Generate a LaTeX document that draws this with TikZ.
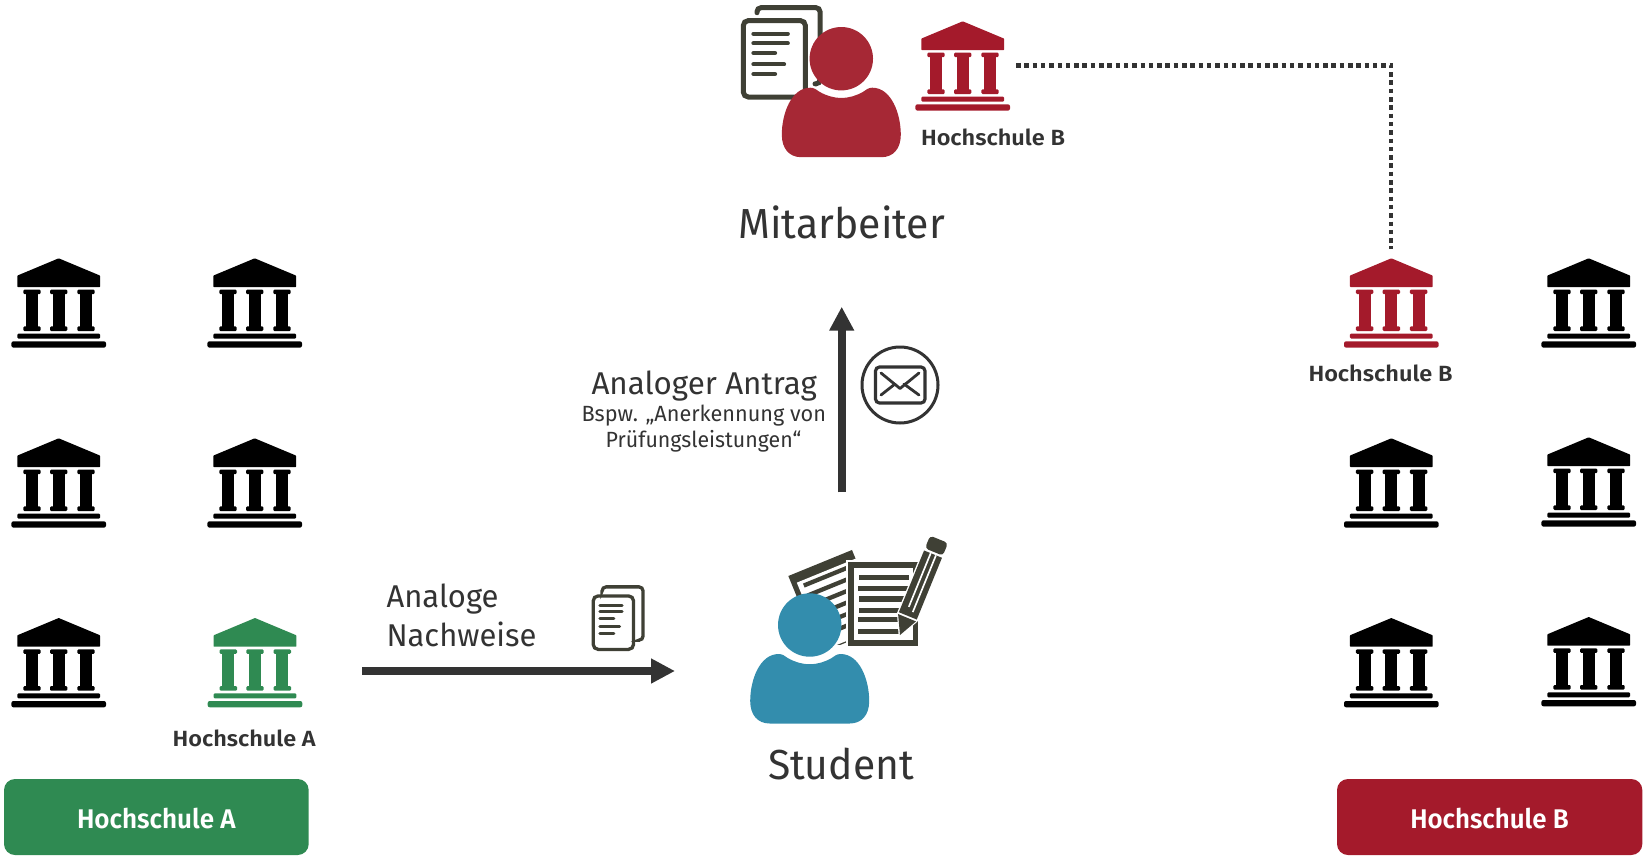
\documentclass[tikz,border=0pt]{standalone}
\usepackage{fontspec}
\usepackage{graphicx}
\usetikzlibrary{arrows.meta}
\setmainfont{Fira Sans}
\newfontfamily\lightfont{Fira Sans}
\newfontfamily\heavyfont{Fira Sans SemiBold}
\definecolor{txt}{HTML}{333333}
\definecolor{icon}{HTML}{3F4035}
\definecolor{hsred}{HTML}{A41A2B}
\definecolor{hsgreen}{HTML}{2F8A52}
\definecolor{pred}{HTML}{A62835}
\definecolor{pteal}{HTML}{338DAD}
% \lbl{font}{size}{width}{text}
\newcommand{\lbl}[4]{\resizebox{#3pt}{\height}{#1\fontsize{#2}{#2}\selectfont #4}}
\newcommand{\PP}[2]{({360+0.378*(#1)+0.926*(#2)},{315-0.926*(#1)+0.378*(#2)})}
\newcommand{\QQ}[2]{({25+0.927*(#1)+0.379*(#2)},{138-0.379*(#1)+0.927*(#2)})}
\tikzset{
  txtlabel/.style={anchor=base west,inner sep=0pt,outer sep=0pt,text=txt},
  btn/.style={rounded corners=11pt},
  conn/.style={draw=txt,line width=8pt,-{Triangle[length=24pt,width=23.5pt]}},
  pics/bank/.style={code={
    \fill[#1,rounded corners=0.6pt] (0,0) -- (41.4,17.3) -- (41.4,28.7) -- (-41.4,28.7) -- (-41.4,17.3) -- cycle;
    \foreach \cx in {-26.7,0,27.3}{
      \fill[#1,rounded corners=1.2pt] (\cx-8.7,31.3) rectangle (\cx+8.7,35.8);
      \fill[#1] (\cx-6,33) rectangle (\cx+6,70);
      \fill[#1,rounded corners=1.2pt] (\cx-8.7,68) rectangle (\cx+8.7,72.7);
    }
    \fill[#1,rounded corners=1.2pt] (-41.4,75.3) rectangle (41.4,80.3);
    \fill[#1,rounded corners=2pt] (-47.3,83) rectangle (47.3,89.3);
  }},
  pics/person/.style={code={
    \fill[#1] (-40,98.5) .. controls (-52,98.5) and (-59.5,90) .. (-59.5,76)
      .. controls (-59.5,55) and (-50,29) .. (-31,29)
      .. controls (-27,29) and (-25,31) .. (-22,33)
      .. controls (-15,37) and (-8,39.2) .. (0,39.2)
      .. controls (8,39.2) and (15,37) .. (22,33)
      .. controls (25,31) and (27,29) .. (31,29)
      .. controls (50,29) and (59.5,55) .. (59.5,76)
      .. controls (59.5,90) and (52,98.5) .. (40,98.5) -- cycle;
    \fill[#1] (0,0) circle (31.7);
  }},
  pics/docs/.style 2 args={code={
    \draw[icon,line width=#1pt,rounded corners=5pt] (2.3,2.3) rectangle (64.4,78.7);
    \draw[icon,line width=#1pt,rounded corners=4pt,line cap=round] (16,-5.6) -- (16,-10.6) -- (79,-10.6) -- (79,65.5) -- (74,65.5);
    \foreach \ly/\lx in {15.4/46.7,25/46.7,34.7/34,46/43,55.7/34}{
      \draw[icon,line width=#2pt,line cap=round] (12.5,\ly) -- (\lx,\ly);
    }
  }}
}
\begin{document}
\begin{tikzpicture}[x=1pt,y=-1pt]
\useasboundingbox (0,0) rectangle (1643,855);

% banks
\pic at (58.7,258.3) {bank=black};
\pic at (254.7,258.3) {bank=black};
\pic at (58.7,438.3) {bank=black};
\pic at (254.7,438.3) {bank=black};
\pic at (58.7,618) {bank=black};
\pic at (255,618) {bank=hsgreen};
\pic at (1391.3,258.3) {bank=hsred};
\pic at (1588.7,258.3) {bank=black};
\pic at (1391.3,438.3) {bank=black};
\pic at (1588.7,437.3) {bank=black};
\pic at (1391.3,618) {bank=black};
\pic at (1588.7,617) {bank=black};
\pic at (962.7,21.3) {bank=hsred};

% dotted link
\coordinate (linkA) at (1016,65.3);
\coordinate (linkC) at (1391,65.3);
\coordinate (linkB) at (1391,249);
\draw[txt,line width=4.5pt,dash pattern=on 4.5pt off 3.8pt] (linkA) -- (linkC) -- (linkB);

% Mitarbeiter icon
\pic at (741,18.3) {docs={5}{4.3}};
\pic at (841.3,58.7) {person=pred};

% small documents
\pic[xscale=0.65,yscale=0.7] at (591.7,594.3) {docs={3.3}{3}};

% student documents
\begin{scope}[shift={(780,530)},x=0.33333pt,y=-0.33333pt]
  \fill[icon] \QQ{0}{0} -- \QQ{206}{0} -- \QQ{206}{250} -- \QQ{0}{250} -- cycle;
  \fill[white] \QQ{16}{28} -- \QQ{206}{28} -- \QQ{206}{246} -- \QQ{16}{246} -- cycle;
  \foreach \b in {44,76,108,140,172,204}{
    \draw[icon,line width=4.3pt] \QQ{32}{\b} -- \QQ{180}{\b};
  }
  \fill[white] (197,90) rectangle (420,352);
  \fill[white] (228,40) -- (245,40) -- (245,97) -- (228,97) -- cycle;
  \fill[icon] (205,97) rectangle (415,348);
  \fill[white] (222,115) rectangle (398,330);
  \foreach \ya/\xa/\xb in {135/237/387,167/234/384,199/237/373,233/236/358,260/234/354,296/234/357}{
    \fill[icon] (\xa,\ya) rectangle (\xb,\ya+16);
  }
  % pencil
  \draw[white,line width=2.8pt,fill=white,line join=round] \PP{0}{0} -- \PP{58}{-29} -- \PP{262}{-29} -- \PP{262}{29} -- \PP{58}{29} -- cycle;
  \fill[icon] \PP{0}{0} -- \PP{56}{-29} -- \PP{56}{29} -- cycle;
  \fill[icon] \PP{62}{-29} -- \PP{262}{-29} -- \PP{262}{29} -- \PP{62}{29} -- cycle;
  \fill[white] \PP{88}{-10} -- \PP{262}{-10} -- \PP{262}{-5} -- \PP{88}{-5} -- cycle;
  \fill[white] \PP{78}{7} -- \PP{262}{7} -- \PP{262}{12} -- \PP{78}{12} -- cycle;
  \fill[icon,rounded corners=3.5pt] \PP{269}{-29} -- \PP{310}{-29} -- \PP{310}{29} -- \PP{269}{29} -- cycle;
\end{scope}

% white gap under the student's head
\begin{scope}
  \clip (775,645) rectangle (850,672);
  \fill[white] (809.7,625) circle (40);
\end{scope}

% student
\pic at (809.7,625) {person=pteal};

% envelope
\draw[txt,line width=3pt] (900,385) circle (38);
\draw[txt,line width=3.2pt,rounded corners=4pt] (875.5,367) rectangle (925,403);
\draw[txt,line width=2.8pt,line cap=round,line join=round] (881,373) -- (900,388.5) -- (919,373);
\draw[txt,line width=2.8pt,line cap=round] (881,395) -- (895,384);
\draw[txt,line width=2.8pt,line cap=round] (919,395) -- (904,384);

% buttons
\fill[hsgreen,btn] (4,779) rectangle (308.7,855);
\fill[hsred,btn] (1337,779) rectangle (1642.3,855);

% text
\node[txtlabel,text=white] (btnA) at (77,828.7) {\lbl{\heavyfont}{27}{158.7}{Hochschule A}};
\node[txtlabel,text=white] (btnB) at (1410.3,828.7) {\lbl{\heavyfont}{27}{158.4}{Hochschule B}};
\node[txtlabel] (lblA) at (172.7,746) {\lbl{\heavyfont}{22}{143}{Hochschule A}};
\node[txtlabel] (lblB1) at (921,145) {\lbl{\heavyfont}{22}{144}{Hochschule B}};
\node[txtlabel] (lblB2) at (1308.5,381.5) {\lbl{\heavyfont}{22}{144}{Hochschule B}};
\node[txtlabel] (mit) at (738.5,238) {\lbl{\lightfont}{42}{206.5}{Mitarbeiter}};
\node[txtlabel] (stu) at (768,779) {\lbl{\lightfont}{42}{146}{Student}};
\node[txtlabel] (antrag) at (591.5,394) {\lbl{\lightfont}{31.5}{225.5}{Analoger Antrag}};
\node[txtlabel] (bsp) at (581.5,421.7) {\lbl{\lightfont}{22}{244.5}{Bspw. „Anerkennung von}};
\node[txtlabel] (pruef) at (605.7,447.5) {\lbl{\lightfont}{22}{195.5}{Prüfungsleistungen“}};
\node[txtlabel] (ana) at (386.5,607.5) {\lbl{\lightfont}{31.5}{112}{Analoge}};
\node[txtlabel] (nach) at (386.5,646) {\lbl{\lightfont}{31.5}{150}{Nachweise}};

% arrows
\coordinate (nwStart) at (362,671);
\coordinate (nwEnd) at (675,671);
\coordinate (anStart) at (841.7,492.3);
\coordinate (anEnd) at (841.7,306.7);
\draw[conn] (nwStart) -- (nwEnd);
\draw[conn] (anStart) -- (anEnd);
\end{tikzpicture}
\end{document}
